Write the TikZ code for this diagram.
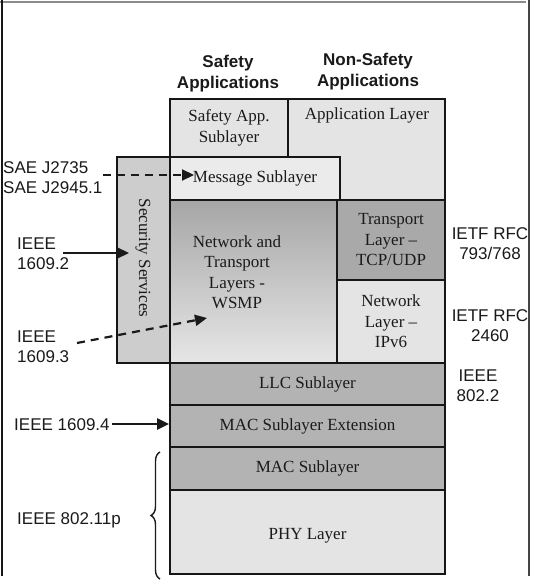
\documentclass[tikz,border=0pt]{standalone}
\usepackage{fontspec}
\setmainfont{Liberation Serif}
\setsansfont{Liberation Sans}
\usetikzlibrary{arrows.meta,decorations.pathreplacing}
\definecolor{ink}{HTML}{1A1A1A}
\definecolor{edge}{HTML}{161616}
\definecolor{cLight}{HTML}{E4E4E4}
\definecolor{cLighter}{HTML}{EBEBEB}
\definecolor{cSec}{HTML}{CDCDCD}
\definecolor{cDark}{HTML}{A9A9A9}
\definecolor{cMid}{HTML}{B3B3B3}
\definecolor{cTop}{HTML}{A6A6A6}
\definecolor{cBot}{HTML}{E6E6E6}
\definecolor{frameGray}{HTML}{8A8A8A}
\definecolor{frameDark}{HTML}{444444}
\tikzset{
  layerbox/.style={draw=edge, line width=1.8pt, inner sep=0pt, text=ink,
    font=\fontsize{17}{20.5}\selectfont, align=center},
  boxtext/.style={inner sep=0pt, text=ink, font=\fontsize{17}{20.5}\selectfont, align=center},
  lbl/.style={inner sep=0pt, text=ink, font=\sffamily\fontsize{17}{20}\selectfont},
  hdr/.style={inner sep=0pt, text=ink, font=\sffamily\bfseries\fontsize{17}{21}\selectfont, align=center},
  solidarrow/.style={draw=ink, line width=2.2pt, -{Triangle[length=12pt,width=11pt]}},
  dasharrow/.style={draw=ink, line width=2.2pt, dash pattern=on 8pt off 6pt, -{Triangle[length=12pt,width=11pt]}},
}
\begin{document}
\begin{tikzpicture}[x=1pt,y=-1pt]
\useasboundingbox (0,0) rectangle (534,585);
\fill[white] (0,0) rectangle (534,585);
% frame
\draw[frameGray, line width=2.5pt] (0,2) -- (526,2);
\draw[edge, line width=2pt] (2,0) -- (2,576);
\draw[frameDark, line width=2.5pt] (529,0) -- (529,576);

% headers
\node[hdr] (safehdr) at (228,74) {Safety\\Applications};
\node[hdr] (nonsafehdr) at (368,72) {Non-Safety\\Applications};

% security box (behind)
\node[layerbox, fill=cSec, minimum width=53, minimum height=206] (sec) at (143.5,260) {};
\node[boxtext, rotate=-90] (seclabel) at (143,258) {Security Services};

% upper boxes
\node[layerbox, fill=cLight, minimum width=118, minimum height=58] (safapp) at (229,128) {Safety App.\\Sublayer};
\node[layerbox, fill=cLight, minimum width=157, minimum height=101] (applayer) at (366.5,149.5) {};
\node[boxtext] (applabel) at (367,115) {Application Layer};
\node[layerbox, fill=cLighter, minimum width=170, minimum height=43] (msg) at (255,178.5) {Message Sublayer};
\node[layerbox, top color=cTop, bottom color=cBot, minimum width=167, minimum height=163] (wsmp) at (253.5,281.5) {};
\node[boxtext] (wsmplabel) at (237,272) {Network and\\Transport\\Layers -\\WSMP};
\node[layerbox, fill=cDark, minimum width=108, minimum height=80] (transport) at (391,240) {Transport\\Layer --\\TCP/UDP};
\node[layerbox, fill=cLight, minimum width=108, minimum height=83] (network) at (391,321.5) {Network\\Layer --\\IPv6};
\node[layerbox, fill=cMid, minimum width=275, minimum height=42] (llc) at (307.5,384) {LLC Sublayer};
\node[layerbox, fill=cMid, minimum width=275, minimum height=42] (macext) at (307.5,426) {MAC Sublayer Extension};
\node[layerbox, fill=cMid, minimum width=275, minimum height=43] (mac) at (307.5,468.5) {MAC Sublayer};
\node[layerbox, fill=cLight, minimum width=275, minimum height=84] (phy) at (307.5,532) {};
\node[boxtext] (phylabel) at (307.5,536) {PHY Layer};

% left labels
\node[lbl, anchor=west, align=left] (sae) at (3,178) {SAE J2735\\SAE J2945.1};
\node[lbl, anchor=west, align=left] (i16092) at (17,254) {IEEE\\1609.2};
\node[lbl, anchor=west, align=left] (i16093) at (17,347) {IEEE\\1609.3};
\node[lbl, anchor=west] (i16094) at (14,425) {IEEE 1609.4};
\node[lbl, anchor=west] (i80211) at (17,520) {IEEE 802.11p};

% right labels
\node[lbl, align=center] (rfc793) at (490,244) {IETF RFC\\793/768};
\node[lbl, align=center] (rfc2460) at (490,326) {IETF RFC\\2460};
\node[lbl, align=center] (i8022) at (478,386) {IEEE\\802.2};

% arrow coordinates
\coordinate (saeS) at (103,175);
\coordinate (msgTip) at (194,175);
\coordinate (secS) at (63,253);
\coordinate (secTip) at (129,253);
\coordinate (wsmpS) at (77,343);
\coordinate (wsmpTip) at (207,318);
\coordinate (macS) at (112,424);

\draw[dasharrow] (saeS) -- (msgTip);
\draw[solidarrow] (secS) -- (secTip);
\draw[dasharrow] (wsmpS) -- (wsmpTip);
\draw[solidarrow] (macS) -- (macext.west |- macS);

% brace
\coordinate (braceB) at (160,579);
\coordinate (braceT) at (160,452);
\draw[ink, line width=1.4pt, decorate, decoration={brace, amplitude=9pt}] (braceB) -- (braceT);
\end{tikzpicture}
\end{document}
